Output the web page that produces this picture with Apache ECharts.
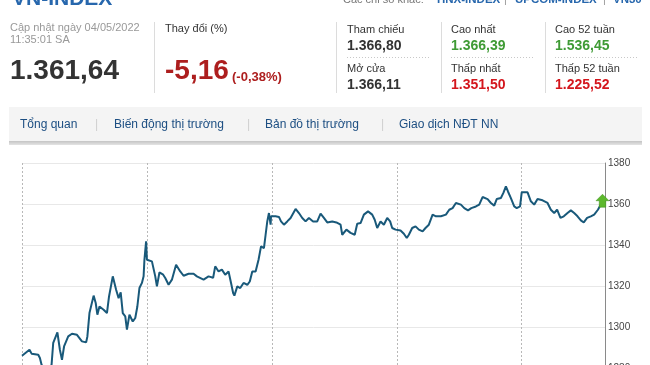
<!DOCTYPE html>
<html><head><meta charset="utf-8">
<script src="https://cdn.jsdelivr.net/npm/echarts@6/dist/echarts.min.js"></script>
<style>html,body{margin:0;padding:0;background:#fff;}#c{width:650px;height:365px;}</style>
</head><body><div id="c"></div>
<script>
// Intraday series: minutes from first vertical gridline, index value
const times=[0,1.8,2.3,3.9,4.3,4.7,5.8,7.1,7.5,8.5,
9.1,9.6,10.1,11.1,12.0,13.2,14.4,15.4,15.7,16.2,
17.2,17.7,18.1,18.6,19.6,20.4,20.9,21.8,22.6,23.2,
23.7,24.2,24.8,25.2,25.8,26.6,27.2,27.7,28.2,28.8,
29.2,29.4,29.8,30.0,31.2,31.6,32.0,32.4,33.0,33.9,
34.4,35.2,36.0,37.0,38.0,38.8,40.0,41.2,42.0,43.6,
44.8,45.9,46.4,47.2,48.0,48.8,49.6,50.2,50.7,51.0,
51.7,52.4,53.2,54.1,54.7,55.3,56.1,56.8,57.4,58.1,
58.5,58.9,59.3,59.7,59.8,60.9,61.7,62.2,62.9,63.7,
64.5,65.7,66.5,67.3,68.1,68.9,69.3,69.9,70.9,71.7,
72.5,73.3,74.5,75.5,76.5,76.9,77.3,77.9,78.9,79.9,
80.5,81.3,82.1,83.1,84.1,84.7,85.3,86.1,86.9,87.7,
88.4,88.9,89.7,90.9,91.7,92.4,92.9,93.7,94.5,95.3,
96.2,96.9,97.7,98.1,98.6,99.4,100.6,101.8,102.6,103.4,
104.2,104.6,105.4,106.2,107.1,107.9,109.0,109.8,110.6,111.8,
112.6,113.4,114.0,115.0,115.6,116.2,116.7,117.4,118.2,118.8,
119.6,120.0,121.4,121.8,122.2,123.0,123.8,125.0,126.2,127.0,
127.8,128.5,129.3,130.1,131.0,131.8,132.6,133.4,134.2,134.9,
135.7,136.6,137.4,138.3,139.0,139.4];
const values=[1286.0,1288.9,1287.0,1286.5,1284.9,1281.6,1276.5,1281.6,1292.3,1297.4,
1288.9,1284.0,1290.5,1295.4,1296.7,1296.2,1293.0,1292.5,1295.4,1306.8,
1315.3,1311.7,1306.0,1310.0,1308.4,1306.8,1314.9,1324.7,1318.2,1314.1,
1316.9,1306.8,1305.2,1298.7,1306.0,1302.7,1304.4,1310.0,1319.0,1321.5,
1324.7,1332.8,1341.8,1332.8,1332.0,1331.2,1324.7,1319.8,1326.6,1325.5,
1323.9,1320.6,1323.1,1330.4,1327.1,1325.0,1326.0,1326.0,1324.7,1323.1,
1324.7,1324.0,1329.6,1327.1,1328.0,1325.5,1327.1,1321.5,1316.6,1315.3,
1319.8,1319.0,1321.5,1320.6,1322.2,1327.1,1327.1,1332.8,1339.3,1338.5,
1345.0,1351.5,1355.6,1349.9,1354.0,1354.0,1353.7,1351.5,1349.9,1351.5,
1353.2,1357.6,1355.6,1353.2,1351.5,1353.2,1354.0,1351.5,1351.5,1355.3,
1353.2,1351.0,1351.5,1351.0,1349.9,1345.0,1344.5,1347.5,1345.9,1345.0,
1350.4,1350.7,1354.8,1356.4,1354.8,1352.3,1348.3,1351.5,1349.9,1353.2,
1351.5,1348.3,1347.5,1347.1,1345.5,1343.4,1345.0,1348.3,1349.1,1347.5,
1346.6,1348.3,1349.9,1350.7,1354.8,1354.0,1354.0,1354.8,1357.2,1358.0,
1360.5,1361.3,1359.7,1358.0,1356.9,1358.0,1358.8,1359.7,1363.4,1362.4,
1360.5,1359.2,1362.4,1362.9,1365.4,1368.6,1366.1,1362.9,1358.8,1358.0,
1358.8,1365.7,1365.7,1365.4,1361.3,1359.7,1362.4,1361.8,1360.5,1357.2,
1355.6,1357.2,1353.2,1354.0,1355.6,1356.9,1355.6,1354.0,1352.0,1351.0,
1353.2,1354.0,1354.8,1357.2,1359.7,1361.6];
const yMin=1260, yMax=1380, yStep=20;
const xMin=0, xMax=140, xStep=30;

const indexName='VN-INDEX';
const updated=['Cập nhật ngày 04/05/2022','11:35:01 SA'];
const lastValue='1.361,64';
const changeLabel='Thay đổi (%)';
const change='-5,16';
const changePct='(-0,38%)';
const otherLabel='Các chỉ số khác:';
const otherIndexes=['HNX-INDEX','UPCOM-INDEX','VN30'];
const statLabels=[['Tham chiếu','Mở cửa'],['Cao nhất','Thấp nhất'],['Cao 52 tuần','Thấp 52 tuần']];
const statValues=[['1.366,80','1.366,11'],['1.366,39','1.351,50'],['1.536,45','1.225,52']];
const tabs=['Tổng quan','Biến động thị trường','Bản đồ thị trường','Giao dịch NĐT NN'];

const F='Arial, "Liberation Sans", sans-serif';
function txt(x,y,text,font,fill){return {type:'text',x:x,y:y,silent:true,z:10,style:{text:text,font:font+' '+F,fill:fill,align:'left',verticalAlign:'middle'}};}
function ln(x1,y1,x2,y2,stroke,dash){return {type:'line',silent:true,z:10,shape:{x1:x1,y1:y1,x2:x2,y2:y2},style:{stroke:stroke,lineWidth:1,lineDash:dash||null}};}

const g=[];
g.push(txt(12,-1,indexName,'bold 21px','#2767ad'));
g.push(txt(343,0,otherLabel,'11px','#777'));
const oxs=[437,515,613];
otherIndexes.forEach((s,i)=>g.push(txt(oxs[i],0,s,'bold 11.5px','#2767ad')));
g.push(txt(504,0,'|','11px','#999'));
g.push(txt(603,0,'|','11px','#999'));
g.push(txt(10,28,updated[0],'11px','#999'));
g.push(txt(10,40,updated[1],'11px','#999'));
g.push(txt(10,71,lastValue,'bold 28px','#333'));
g.push(ln(154.5,22,154.5,93,'#dcdcdc'));
g.push(txt(165,29,changeLabel,'11px','#333'));
g.push(txt(165,71,change,'bold 28px','#ad1e1e'));
g.push(txt(232,77,changePct,'bold 13px','#ad1e1e'));
const sx=[347,451,555], sep=[336.5,441.5,545.5];
const valColors=[['#333','#333'],['#3f9b35','#d4161d'],['#3f9b35','#d4161d']];
for(let i=0;i<3;i++){
  g.push(ln(sep[i],22,sep[i],93,'#dcdcdc'));
  g.push(txt(sx[i],30,statLabels[i][0],'11px','#333'));
  g.push(txt(sx[i],46,statValues[i][0],'bold 14px',valColors[i][0]));
  g.push(ln(sx[i],57.5,sx[i]+84,57.5,'#c8c8c8',[1,2]));
  g.push(txt(sx[i],69,statLabels[i][1],'11px','#333'));
  g.push(txt(sx[i],85,statValues[i][1],'bold 14px',valColors[i][1]));
}
g.push({type:'rect',silent:true,z:9,shape:{x:9,y:107,width:633,height:35},style:{fill:'#f4f4f4'}});
g.push({type:'rect',silent:true,z:9,shape:{x:9,y:141,width:633,height:4},style:{fill:new echarts.graphic.LinearGradient(0,0,0,1,[{offset:0,color:'#c4c4c4'},{offset:1,color:'#e4e4e4'}])}});
const tx=[20,114,265,399], tsep=[95,247,381];
tabs.forEach((s,i)=>g.push(txt(tx[i],125,s,'12px','#1c4e82')));
tsep.forEach(x=>g.push(txt(x,125,'|','12px','#cfcfcf')));

const chart=echarts.init(document.getElementById('c'),null,{renderer:'canvas'});
const last=times.length-1;
chart.setOption({
  animation:false,
  backgroundColor:'#fff',
  grid:{left:22,top:163,width:583,height:246,containLabel:false,outerBoundsMode:'none'},
  xAxis:{type:'value',min:xMin,max:xMax,interval:xStep,
    axisLine:{show:false,onZero:false},axisTick:{show:false},axisLabel:{show:false},
    splitLine:{show:true,lineStyle:{color:'#b8b8b8',type:[2,2],width:1}}},
  yAxis:{type:'value',position:'right',min:yMin,max:yMax,interval:yStep,
    axisLine:{show:true,onZero:false,lineStyle:{color:'#8a8a8a'}},axisTick:{show:false},
    axisLabel:{color:'#444',fontSize:10,fontFamily:F,margin:3,formatter:v=>String(v)},
    splitLine:{show:true,lineStyle:{color:'#e8e8e8'}}},
  series:[{type:'line',data:times.map((t,i)=>[t,values[i]]),showSymbol:false,
    lineStyle:{color:'#19597a',width:2},
    markPoint:{symbol:'path://M6,0 L12,6 L9,6 L9,12 L3,12 L3,6 L0,6 Z',symbolSize:[13,13],
      itemStyle:{color:'#5cb82c',borderColor:'#3d8f1a',borderWidth:0.5},label:{show:false},
      data:[{coord:[times[last],values[last]]}]}}],
  graphic:{elements:g}
});
</script></body></html>
